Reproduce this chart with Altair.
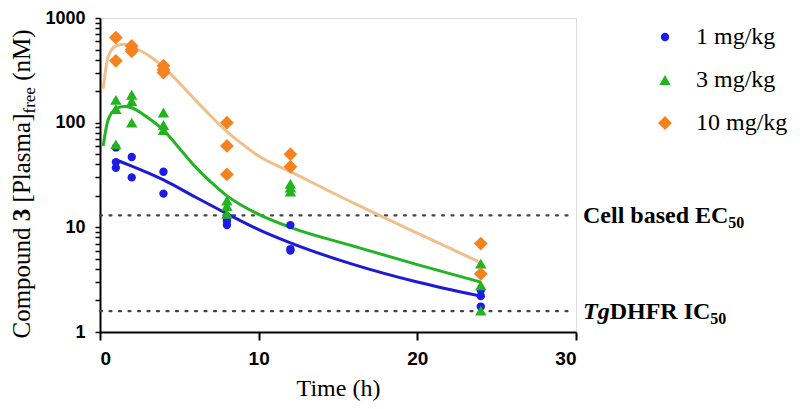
import altair as alt
import pandas as pd

# ---------------- data ----------------
doses = ['1 mg/kg', '3 mg/kg', '10 mg/kg']
point_colors = ['#1c1ce6', '#22b41e', '#f5821f']
line_colors = ['#1a1ad8', '#22b422', '#f0c08c']
shapes = ['circle', 'triangle-up', 'diamond']
sizes = [70, 190, 170]

# observed concentrations (nM) at sampling times (h)
t_1mg = [1, 1, 1, 2, 2, 4, 4, 8, 8, 8, 12, 12, 12, 24, 24, 24]
c_1mg = [58, 42, 37, 47, 30, 34, 21, 12.5, 11.5, 10.5, 10.5, 6.2, 6.0, 2.5, 2.2, 1.75]
t_3mg = [1, 1, 1, 2, 2, 2, 4, 4, 4, 8, 8, 8, 12, 12, 12, 24, 24, 24]
c_3mg = [165, 135, 62, 185, 160, 100, 125, 95, 85, 18, 16, 13.5, 26, 24, 22, 4.5, 2.8, 1.6]
t_10mg = [1, 1, 2, 2, 2, 4, 4, 4, 8, 8, 8, 12, 12, 24, 24]
c_10mg = [650, 390, 540, 500, 480, 350, 320, 300, 100, 60, 32, 50, 38, 7, 3.6]

# fitted curves
ft_1mg = [1, 2, 4, 6, 8, 10, 12, 16, 20, 24]
fc_1mg = [44, 38.5, 28.4, 19.5, 13.5, 9.5, 7.1, 4.4, 3.0, 2.2]
ft_3mg = [0.2, 0.5, 1, 1.5, 2, 3, 4, 5, 6, 7, 8, 9, 10, 12, 16, 20, 24]
fc_3mg = [60, 105, 136, 143, 139, 112, 85, 57, 38, 27, 20, 16, 13.3, 10, 6.6, 4.4, 3.0]
ft_10mg = [0.2, 0.5, 1, 1.5, 2, 3, 4, 5, 6, 7, 8, 9, 10, 12, 16, 20, 24]
fc_10mg = [210, 420, 540, 560, 530, 445, 340, 240, 165, 115, 82, 62, 48, 34, 17, 8.8, 4.6]

# reference thresholds (nM)
thr_values = [13, 1.58]

x_ticks = [0, 10, 20, 30]
y_ticks = [m * 10 ** e for e in range(3) for m in range(1, 10)] + [1000]

# ---------------- tables ----------------
pts = pd.DataFrame({
    't': t_1mg + t_3mg + t_10mg,
    'c': c_1mg + c_3mg + c_10mg,
    'dose': [doses[0]] * len(t_1mg) + [doses[1]] * len(t_3mg) + [doses[2]] * len(t_10mg),
})
fit = pd.DataFrame({
    't': ft_1mg + ft_3mg + ft_10mg,
    'c': fc_1mg + fc_3mg + fc_10mg,
    'dose': [doses[0]] * len(ft_1mg) + [doses[1]] * len(ft_3mg) + [doses[2]] * len(ft_10mg),
    'lc': [line_colors[0]] * len(ft_1mg) + [line_colors[1]] * len(ft_3mg) + [line_colors[2]] * len(ft_10mg),
})
thr = pd.DataFrame({'c': thr_values})

# ---------------- text metrics (Times-like) ----------------
TIMES = {'C': 667, 'o': 500, 'm': 778, 'p': 500, 'u': 500, 'n': 500, 'd': 500, ' ': 250,
         '[': 333, 'P': 556, 'l': 278, 'a': 444, 's': 389, ']': 333, 'f': 333, 'r': 333,
         'e': 444, '(': 333, 'M': 889, ')': 333, '3': 500}
TIMES_B = {'C': 722, 'e': 444, 'l': 278, ' ': 250, 'b': 556, 'a': 500, 's': 389, 'd': 556,
           'E': 667, 'D': 722, 'H': 778, 'F': 611, 'R': 722, 'I': 389, '3': 500}
TIMES_BI = {'T': 611, 'g': 500}


def tw(s, table, size):
    return sum(table.get(ch, 500) for ch in s) * size / 1000.0


SERIF = 'Liberation Serif'
SANS = 'Liberation Sans'
TOP = 10
W, H = 476, 314
FS = 24
SUB = 16
TFS = 25
TSUB = 17

x_scale = alt.Scale(domain=[0, 30], nice=False)
y_scale = alt.Scale(type='log', domain=[1, 1000], nice=False)

legend = alt.Legend(title=None, orient='none', legendX=553, legendY=7,
                    labelFont=SERIF, labelFontSize=FS, labelColor='black',
                    labelOffset=19, rowPadding=19, symbolStrokeWidth=0,
                    symbolOpacity=1)

base_x = alt.X('t:Q', scale=x_scale,
               axis=alt.Axis(values=x_ticks, title='Time (h)', grid=False,
                             domainColor='black', domainWidth=2, tickColor='black',
                             tickWidth=2, tickSize=8, labelFont=SANS, labelFontWeight='bold',
                             labelFontSize=19, labelColor='black', labelPadding=9,
                             titleFont=SERIF, titleFontSize=FS, titleFontWeight='normal',
                             titleColor='black', titlePadding=8))
base_y = alt.Y('c:Q', scale=y_scale,
               axis=alt.Axis(values=y_ticks, title=None, grid=False, format='d',
                             labelExpr="indexof([1,10,100,1000], datum.value) >= 0 ? datum.label : ''",
                             labelOverlap=False, domainColor='black', domainWidth=2,
                             tickColor='black', tickWidth=1.5, tickSize=5,
                             labelFont=SANS, labelFontWeight='bold', labelFontSize=18,
                             labelColor='black', labelPadding=10))

lines = alt.Chart(fit).mark_line(strokeWidth=3, interpolate='monotone').encode(
    x=base_x, y=base_y,
    stroke=alt.Stroke('lc:N', scale=None),
    detail='dose:N',
)

points = alt.Chart(pts).mark_point(filled=True, opacity=1).encode(
    x=alt.X('t:Q', scale=x_scale),
    y=alt.Y('c:Q', scale=y_scale),
    color=alt.Color('dose:N', scale=alt.Scale(domain=doses, range=point_colors), legend=legend,
                    sort=doses),
    shape=alt.Shape('dose:N', scale=alt.Scale(domain=doses, range=shapes), legend=legend,
                    sort=doses),
    size=alt.Size('dose:N', scale=alt.Scale(domain=doses, range=sizes), legend=legend,
                  sort=doses),
)

rules = alt.Chart(thr).mark_rule(strokeDash=[2, 7.5], strokeWidth=2.2, color='#444',
                                 strokeCap='round').encode(
    x=alt.value(0), x2=alt.value(468), y=alt.Y('c:Q', scale=y_scale))

# threshold labels
lab_x = 483
ec_df = pd.DataFrame({'c': [thr_values[0]]})
ic_df = pd.DataFrame({'c': [thr_values[1]]})


def label(df, text, x, size, weight='bold', style='normal', dy=0):
    return alt.Chart(df).mark_text(text=text, font=SERIF, fontSize=size, fontWeight=weight,
                                   fontStyle=style, align='left', baseline='alphabetic',
                                   color='black', dy=dy).encode(
        x=alt.value(x), y=alt.Y('c:Q', scale=y_scale))


sp_b = tw(' ', TIMES_B, FS)
ec1 = label(ec_df, 'Cell', lab_x, FS, dy=8)
ec1b = label(ec_df, 'based', lab_x + tw('Cell', TIMES_B, FS) + sp_b, FS, dy=8)
ec1c = label(ec_df, 'EC', lab_x + tw('Cell based ', TIMES_B, FS), FS, dy=8)
ec2 = label(ec_df, '50', lab_x + tw('Cell based EC', TIMES_B, FS), SUB, dy=13)
ic0 = label(ic_df, 'Tg', lab_x, FS, style='italic', dy=8)
x_dh = lab_x + tw('Tg', TIMES_BI, FS)
ic1 = label(ic_df, 'DHFR', x_dh, FS, dy=8)
ic1b = label(ic_df, 'IC', x_dh + tw('DHFR ', TIMES_B, FS), FS, dy=8)
ic2 = label(ic_df, '50', x_dh + tw('DHFR IC', TIMES_B, FS), SUB, dy=13)

# y-axis title, composed of styled pieces (reads bottom to top); gaps are spaces
sp = tw(' ', TIMES, TFS)
pieces = [('Compound', 'normal', TFS, 0, sp), ('3', 'bold', TFS, 0, sp), ('[Plasma]', 'normal', TFS, 0, 0),
          ('free', 'normal', TSUB, 5, sp), ('(nM)', 'normal', TFS, 0, 0)]
widths = [(tw(s, TIMES, sz) if wt == 'normal' else tw(s, TIMES_B, sz)) + gap
          for s, wt, sz, _, gap in pieces]
total = sum(widths)
start = 169 - (TOP - 7) + total / 2
title_layers = []
acc = 0
base_x_px = -70
for (s, wt, sz, shift, gap), w in zip(pieces, widths):
    title_layers.append(
        alt.Chart(ec_df).mark_text(text=s, font=SERIF, fontSize=sz, fontWeight=wt, angle=270,
                                   align='left', baseline='alphabetic', color='black').encode(
            x=alt.value(base_x_px + shift), y=alt.value(start - acc)))
    acc += w

chart = alt.layer(rules, lines, points, ec1, ec1b, ec1c, ec2, ic0, ic1, ic1b, ic2,
                  *title_layers).properties(
    width=W, height=H,
    padding={'left': 92, 'top': TOP, 'right': 216, 'bottom': 69},
    autosize=alt.AutoSizeParams(type='none'),
).configure_view(stroke=None).configure(background='white')

chart.save('out.html', embed_options={'renderer': 'svg', 'actions': False})
